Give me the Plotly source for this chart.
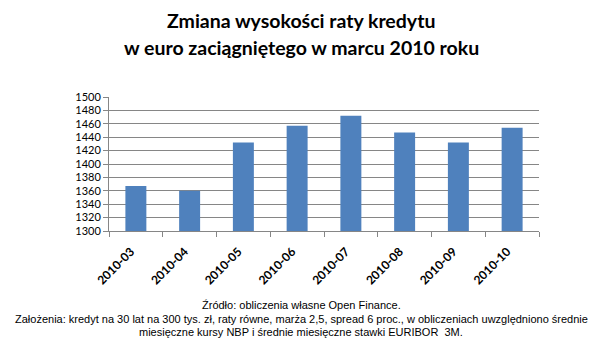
import plotly.graph_objects as go

months = ["2010-03", "2010-04", "2010-05", "2010-06", "2010-07", "2010-08", "2010-09", "2010-10"]
rates = [1367, 1360, 1432, 1457, 1472, 1447, 1432, 1454]
y_ticks = list(range(1300, 1501, 20))

title_lines = ["Zmiana wysokości raty kredytu", "w euro zaciągniętego w marcu 2010 roku"]
footnote_lines = [
    "Źródło: obliczenia własne Open Finance.",
    "Założenia: kredyt na 30 lat na 300 tys. zł, raty równe, marża 2,5, spread 6 proc., w obliczeniach uwzględniono średnie",
    "miesięczne kursy NBP i średnie miesięczne stawki EURIBOR  3M.",
]

W, H = 603, 341
margin = dict(l=109, r=64, t=97, b=110)
plot_h = H - margin["t"] - margin["b"]
plot_w = W - margin["l"] - margin["r"]

fig = go.Figure(go.Bar(
    x=months, y=rates,
    marker=dict(color="#4F81BD", line=dict(width=0)),
))

annotations = []
for line, ypx in zip(title_lines, [20, 48]):
    annotations.append(dict(
        text=f"<b>{line}</b>", xref="paper", yref="paper",
        x=(301 - margin["l"]) / plot_w,
        y=(H - margin["b"] - ypx) / plot_h,
        xanchor="center", yanchor="middle", showarrow=False,
        font=dict(family="Lato", size=19.5, color="#000000"),
    ))
for line, ypx in zip(footnote_lines, [305, 319, 332]):
    annotations.append(dict(
        text=line, xref="paper", yref="paper",
        x=(301 - margin["l"]) / plot_w,
        y=(H - margin["b"] - ypx) / plot_h,
        xanchor="center", yanchor="middle", showarrow=False,
        font=dict(family="Liberation Sans Narrow, Arial Narrow, Liberation Sans", size=11, color="#000000"),
    ))

fig.update_layout(
    width=W, height=H, margin=margin,
    paper_bgcolor="white", plot_bgcolor="white",
    bargap=0.61, showlegend=False,
    annotations=annotations,
    xaxis=dict(
        type="category", tickangle=-45, tickson="boundaries",
        ticks="outside", ticklen=5, tickcolor="#868686",
        showline=True, linecolor="#868686", linewidth=1,
        showgrid=False, ticklabelstandoff=8, ticklabelshift=-5,
        tickfont=dict(family="Lato", size=12, color="#000000", weight="bold"),
    ),
    yaxis=dict(
        range=[1300, 1500], tickvals=y_ticks,
        ticks="outside", ticklen=5, tickcolor="#868686",
        showline=True, linecolor="#868686", linewidth=1,
        showgrid=True, gridcolor="#868686", gridwidth=1,
        zeroline=False,
        tickfont=dict(family="Lato", size=11, color="#000000"),
    ),
)

fig.write_html("out.html")
